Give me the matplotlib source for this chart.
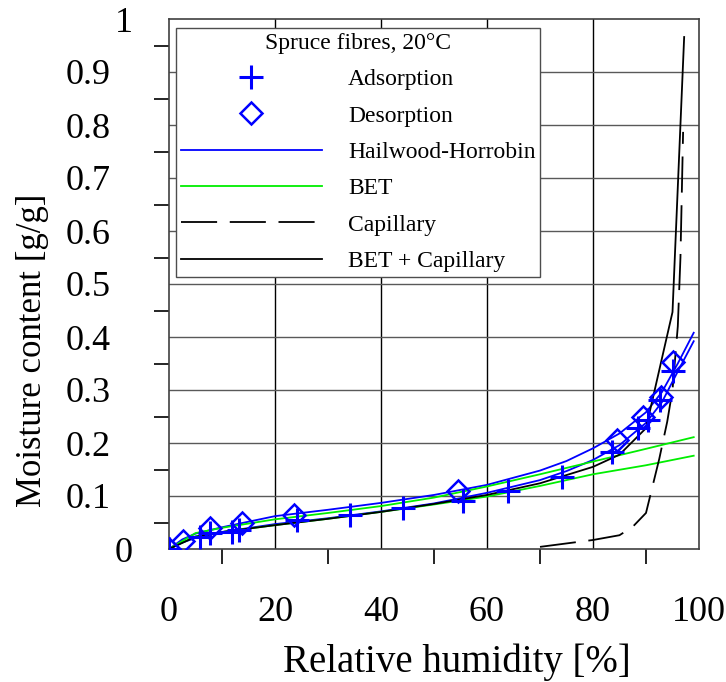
import matplotlib
matplotlib.use("Agg")
import matplotlib.pyplot as plt
from matplotlib.ticker import FixedLocator
from matplotlib.transforms import ScaledTranslation

plt.rcParams['font.family'] = ['Liberation Serif', 'DejaVu Serif']

# Measured data
ads_x = [0, 5.8, 7.8, 11.9, 13.2, 24.2, 34.2, 44.2, 55.5, 64, 74.2, 83.6, 88.5, 90.4, 92.6, 95]
ads_y = [0, 0.023, 0.030, 0.032, 0.035, 0.055, 0.064, 0.077, 0.090, 0.110, 0.136, 0.183, 0.228, 0.243, 0.281, 0.336]

des_x = [0, 2.7, 7.8, 13.8, 23.5, 54.5, 84.5, 89.5, 92.8, 95]
des_y = [0, 0.015, 0.040, 0.050, 0.064, 0.110, 0.206, 0.249, 0.287, 0.353]

# Hailwood-Horrobin fits
hh_x = [0, 2.5, 5, 10, 20, 30, 40, 50, 60, 70, 75, 80, 85, 90, 93, 96, 99]
hh_des_y = [0, 0.018, 0.029, 0.041, 0.062, 0.074, 0.087, 0.102, 0.121, 0.148, 0.166, 0.190, 0.218, 0.258, 0.296, 0.350, 0.408]
hh_ads_y = [0, 0.012, 0.021, 0.032, 0.047, 0.058, 0.071, 0.086, 0.106, 0.130, 0.147, 0.168, 0.196, 0.238, 0.277, 0.335, 0.392]

# BET fits
bet_x = [0, 5, 10, 20, 30, 40, 50, 60, 70, 80, 90, 99]
bet_des_y = [0, 0.030, 0.040, 0.056, 0.068, 0.081, 0.097, 0.118, 0.141, 0.165, 0.189, 0.211]
bet_ads_y = [0, 0.024, 0.032, 0.045, 0.057, 0.070, 0.084, 0.099, 0.119, 0.141, 0.158, 0.176]

# Capillary
cap_x = [70, 80, 85, 87.5, 90, 92.5, 94, 95, 96, 96.5, 97]
cap_y = [0.004, 0.017, 0.026, 0.042, 0.068, 0.170, 0.240, 0.300, 0.420, 0.550, 0.787]

# BET + Capillary
bc_x = [0, 5, 10, 20, 30, 40, 50, 60, 70, 80, 85, 90, 95, 97.2]
bc_y = [0, 0.023, 0.032, 0.045, 0.057, 0.070, 0.085, 0.102, 0.124, 0.155, 0.178, 0.228, 0.447, 0.966]

xticks = [0, 20, 40, 60, 80, 100]
yticks = [0, 0.1, 0.2, 0.3, 0.4, 0.5, 0.6, 0.7, 0.8, 0.9, 1.0]
ytick_labels = ['0', '0.1', '0.2', '0.3', '0.4', '0.5', '0.6', '0.7', '0.8', '0.9', '1']

fig = plt.figure(figsize=(7.26, 6.82), dpi=100)
ax = fig.add_axes([169/726, 1-549/682, 530/726, 530/682])

blue = '#0000ff'
green = '#00ee00'

# grid
for xv in xticks[1:-1]:
    ax.axvline(xv, color='black', lw=1.0, zorder=1)
for yv in yticks[1:-1]:
    ax.axhline(yv, color='0.35', lw=1.0, zorder=1)

ax.plot(hh_x, hh_des_y, color=blue, lw=1.3, zorder=3, label='Hailwood-Horrobin')
ax.plot(hh_x, hh_ads_y, color=blue, lw=1.3, zorder=3)
ax.plot(bet_x, bet_des_y, color=green, lw=1.3, zorder=3, label='BET')
ax.plot(bet_x, bet_ads_y, color=green, lw=1.3, zorder=3)
ax.plot(cap_x, cap_y, color='black', lw=1.3, dashes=(20, 7), zorder=4, label='Capillary')
ax.plot(bc_x, bc_y, color='black', lw=1.3, zorder=4, label='BET + Capillary')
ax.plot(ads_x, ads_y, linestyle='none', marker='+', ms=17, mew=2.2, color=blue, zorder=5, label='Adsorption')
ax.plot(des_x, des_y, linestyle='none', marker='D', ms=11.5, mew=1.8, mfc='none', mec=blue, zorder=5, label='Desorption')

ax.set_xlim(0, 100)
ax.set_ylim(0, 1)
ax.xaxis.set_major_locator(FixedLocator(xticks))
ax.yaxis.set_major_locator(FixedLocator(yticks))
ax.set_yticklabels(ytick_labels)
ax.xaxis.set_minor_locator(FixedLocator([10, 30, 50, 70, 90]))
ax.yaxis.set_minor_locator(FixedLocator([0.05, 0.15, 0.25, 0.35, 0.45, 0.55, 0.65, 0.75, 0.85, 0.95]))
ax.tick_params(axis='both', which='major', length=0, labelsize=26)
ax.tick_params(axis='y', which='major', pad=26)
ax.tick_params(axis='x', which='major', pad=34)
ax.tick_params(axis='both', which='minor', direction='out', length=11, width=1.2, color='black')
for s in ax.spines.values():
    s.set_linewidth(1.2)
    s.set_color('0.25')

ax.set_xlabel('Relative humidity [%]', fontsize=28, labelpad=10)
ax.set_ylabel('Moisture content [g/g]', fontsize=25, labelpad=12)
ax.xaxis.label.set_x(0.543)
ax.yaxis.label.set_y(0.375)

handles, labels = ax.get_legend_handles_labels()
order = ['Adsorption', 'Desorption', 'Hailwood-Horrobin', 'BET', 'Capillary', 'BET + Capillary']
hmap = dict(zip(labels, handles))
leg = ax.legend([hmap[k] for k in order], order, title='Spruce fibres, 20°C',
                loc='upper left', bbox_to_anchor=(0.013, 0.983), borderaxespad=0,
                fontsize=17, title_fontsize=17, handlelength=6.0, handletextpad=1.1,
                labelspacing=0.63, fancybox=False, edgecolor='0.3', framealpha=1,
                borderpad=0.2, markerfirst=True)
leg.get_frame().set_linewidth(1.0)
leg.set_zorder(10)

# decimal labels sit further left than the integer ones in the reference
fig.canvas.draw()
for lab in ax.yaxis.get_ticklabels():
    if lab.get_text() not in ('0', '1'):
        lab.set_transform(lab.get_transform() + ScaledTranslation(-0.22, 0, fig.dpi_scale_trans))

fig.savefig('out.png', dpi=100)
